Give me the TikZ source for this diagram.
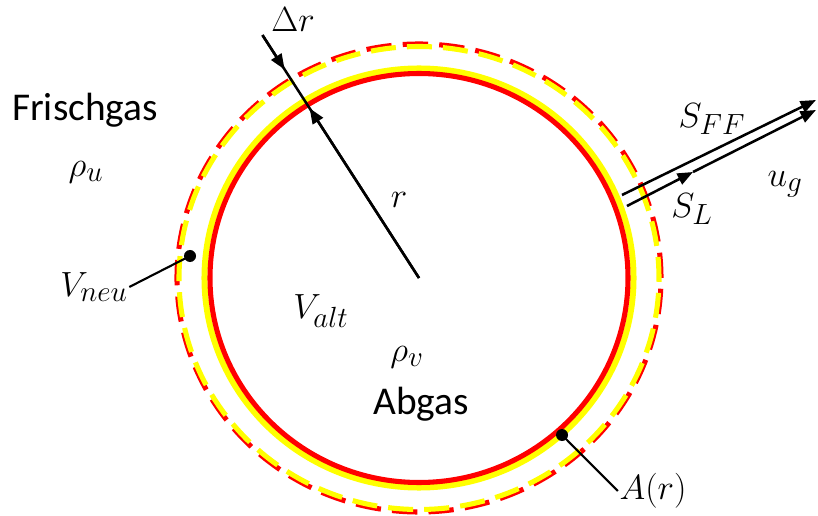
\documentclass[tikz,border=0pt]{standalone}
\usepackage{fontspec}
\setmainfont{Carlito}
\definecolor{ringred}{RGB}{255,0,0}
\definecolor{ringyellow}{RGB}{255,255,0}
\usepackage{tikz}
\usetikzlibrary{arrows.meta, calc}

\begin{document}
\begin{tikzpicture}[
  x=0.025cm, y=0.025cm,
  lbl/.style={inner sep=1pt, font=\fontsize{28}{32}\selectfont},
  vec/.style={line width=1.8pt, -{Triangle[length=11pt, width=8.5pt]}},
  lead/.style={line width=1.5pt},
  pin/.style={circle, fill, inner sep=0pt, minimum size=0.3cm},
]
  \useasboundingbox (0,0) rectangle (818,515);
  \coordinate (o) at (419,237);

  % old and new flame front
  \draw[ringyellow, line width=4.3pt] (o) ellipse [x radius=214.5, y radius=209.5];
  \draw[ringred, line width=3.6pt] (o) ellipse [x radius=209, y radius=204.5];
  \draw[ringred, line width=3.6pt, dash pattern=on 18pt off 7.95pt] (o) ellipse [x radius=242, y radius=234];
  \draw[ringyellow, line width=3.6pt, dash pattern=on 17.8pt off 7.9pt, dash phase=2.8pt] (o) ellipse [x radius=240, y radius=231.5];

  % radius and thickness
  \coordinate (rtop) at ($(o)+(122.8:289)$);
  \coordinate (rout) at ($(o)+(122.8:248)$);
  \coordinate (rin) at ($(o)+(122.8:202)$);
  \draw[line width=1.8pt] (o) -- (rtop);
  \draw[vec] (rtop) -- (rout);
  \draw[vec] (o) -- (rin);

  % velocities
  \coordinate (sffa) at (622,320);
  \coordinate (sffb) at (816,415);
  \coordinate (sla) at (627,309);
  \coordinate (slb) at (693,343);
  \coordinate (ugb) at (816,405);
  \draw[vec] (sffa) -- (sffb);
  \draw[vec] (sla) -- (slb);
  \draw[vec] (slb) -- (ugb);

  \node[pin] (pneu) at ($(o)+(-229,22)$) {};
  \node[pin] (pa) at ($(o)+(143,-157)$) {};

  \node[lbl] (frisch) at (85,405) {Frischgas};
  \node[lbl] (rhou) at (86,343) {$\rho_u$};
  \node[lbl] (vneu) at (94,228) {$V_{neu}$};
  \node[lbl] (valt) at (321,204) {$V_{alt}$};
  \node[lbl] (rhov) at (407,158) {$\rho_v$};
  \node[lbl] (abgas) at (421,111) {Abgas};
  \node[lbl] (ar) at (653,24) {$A(r)$};
  \node[lbl] (dr) at (293,495) {$\Delta r$};
  \node[lbl] (rlab) at (399,315) {$r$};
  \node[lbl] (sff) at (712,396) {$S_{FF}$};
  \node[lbl] (ug) at (785,331) {$u_g$};
  \node[lbl] (sl) at (692,306) {$S_L$};

  \draw[lead] (vneu.east) -- (pneu.center);
  \draw[lead] (pa.center) -- (ar.west);
\end{tikzpicture}
\end{document}
